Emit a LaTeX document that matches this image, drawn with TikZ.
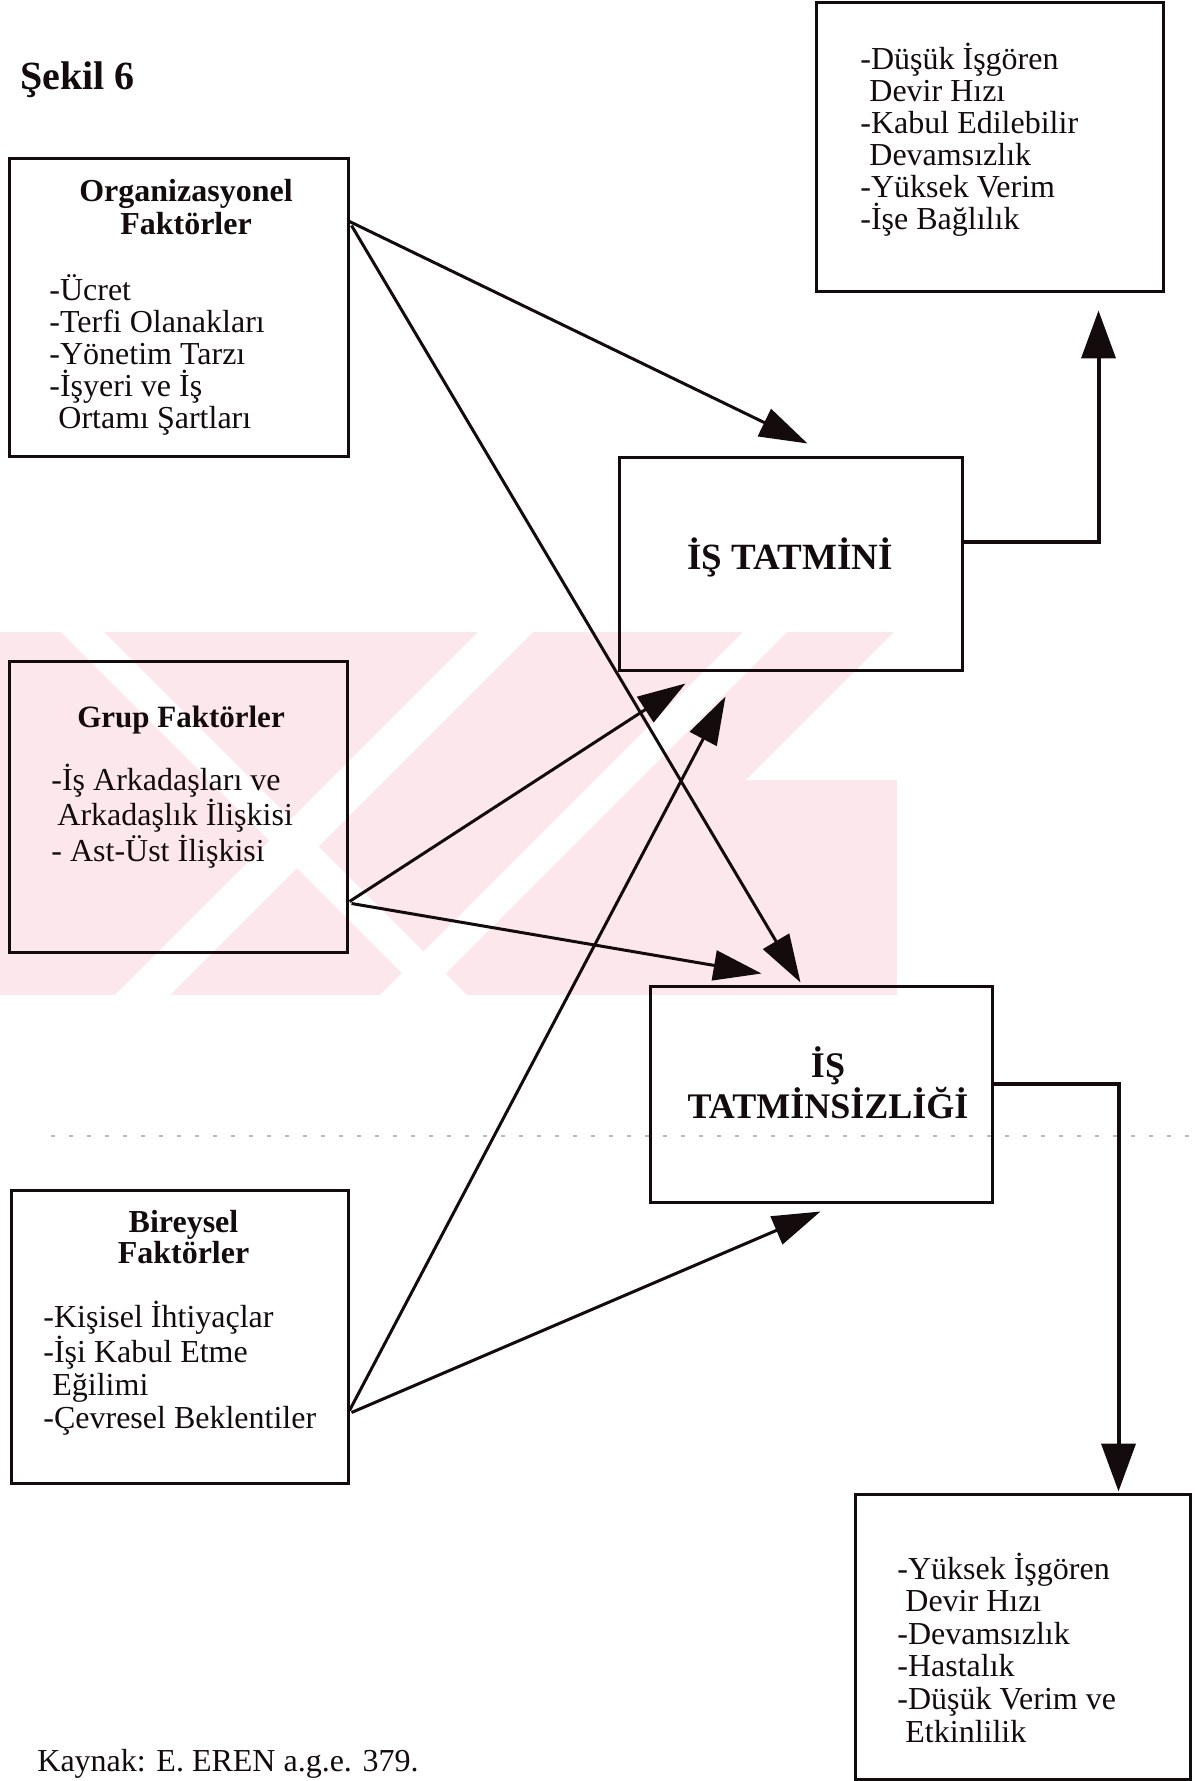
\documentclass[tikz,border=0pt]{standalone}
\usepackage{fontspec}
\setmainfont{Liberation Serif}
\usetikzlibrary{arrows.meta,calc}

\definecolor{wmpink}{RGB}{252,232,236}
\definecolor{ink}{RGB}{20,12,12}

\tikzset{
  box/.style={draw=ink, line width=1.5pt, inner sep=0pt},
  lst/.style={anchor=west, align=left, inner sep=0pt, text=ink},
  head/.style={anchor=center, align=center, inner sep=0pt, text=ink},
  link/.style={draw=ink, line width=1.5pt, -{Triangle[length=24pt,width=15pt]}},
  uplink/.style={draw=ink, line width=2pt, -{Triangle[length=24pt,width=17pt]}},
}

\begin{document}
\begin{tikzpicture}[x=0.5pt,y=-0.5pt]
\useasboundingbox (0,0) rectangle (1194,1781);
\fill[white] (0,0) rectangle (1194,1781);

% faint pink band behind the middle row, broken by diagonal white bands
\begin{scope}
  \clip (0,632) rectangle (897,995);
  \fill[wmpink] (0,632) rectangle (897,995);
  % white diagonals (x-y or x+y constant)
  \fill[white] (61,632) -- (104,632) -- (467,995) -- (424,995) -- cycle;
  \fill[white] (478,632) -- (533,632) -- (170,995) -- (115,995) -- cycle;
  \fill[white] (743,632) -- (787,632) -- (424,995) -- (380,995) -- cycle;
  \fill[white] (897,629) -- (897,780) -- (746,780) -- cycle;
\end{scope}

% thin dotted rule across the lower half
\draw[gray!55, line width=0.6pt, dash pattern=on 2pt off 7pt] (51,1136) -- (1194,1136);

% title
\node[anchor=west, inner sep=0pt, text=ink, font=\fontsize{20}{20}\selectfont\bfseries] (title) at (20,80) {Şekil 6};

% boxes
\node[box, minimum width=169.5pt, minimum height=148.5pt] (org)  at (178.5,307.5) {};
\node[box, minimum width=173.5pt, minimum height=144.5pt] (out1) at (989.5,147.5) {};
\node[box, minimum width=171.5pt, minimum height=106.5pt] (tat)  at (790.5,563.5) {};
\node[box, minimum width=169pt,   minimum height=145.5pt] (grup) at (178,806.5) {};
\node[box, minimum width=171pt,   minimum height=108pt]   (tsz)  at (821,1094) {};
\node[box, minimum width=168.5pt, minimum height=146.5pt] (bir)  at (179.5,1336.5) {};
\node[box, minimum width=167.5pt, minimum height=142.5pt] (out2) at (1022.5,1636.5) {};

% box texts
\node[head, font=\fontsize{16}{16.5}\selectfont\bfseries] (orgh) at (186,207.5) {Organizasyonel\\Faktörler};
\node[lst, font=\fontsize{16}{16}\selectfont] (orgl) at (49,355)
  {-Ücret\\-Terfi Olanakları\\-Yönetim Tarzı\\-İşyeri ve İş\\\hspace*{4.5pt}Ortamı Şartları};

\node[lst, font=\fontsize{16}{16}\selectfont] (out1l) at (860,139.5)
  {-Düşük İşgören\\\hspace*{4.5pt}Devir Hızı\\-Kabul Edilebilir\\\hspace*{4.5pt}Devamsızlık\\-Yüksek Verim\\-İşe Bağlılık};

\node[head, font=\fontsize{18.5}{19}\selectfont\bfseries] (tatt) at (790,557) {İŞ TATMİNİ};

\node[head, font=\fontsize{15.5}{16}\selectfont\bfseries] (gruph) at (181,720) {Grup Faktörler};
\node[lst, font=\fontsize{16}{15.75}\selectfont] (grupl) at (51,816)
  {-İş Arkadaşları ve\\\hspace*{3pt}Arkadaşlık İlişkisi\\- Ast-Üst İlişkisi};

\node[head, font=\fontsize{18}{19}\selectfont\bfseries] (tszt) at (828,1083) {İŞ\\TATMİNSİZLİĞİ};

\node[head, font=\fontsize{16}{15.5}\selectfont\bfseries] (birh) at (183.5,1237.5) {Bireysel\\Faktörler};
\node[lst, font=\fontsize{16}{16.5}\selectfont] (birl) at (43,1368)
  {-Kişisel İhtiyaçlar\\-İşi Kabul Etme\\\hspace*{4.5pt}Eğilimi\\-Çevresel Beklentiler};

\node[lst, font=\fontsize{16}{16.3}\selectfont] (out2l) at (897,1647.5)
  {-Yüksek İşgören\\\hspace*{4pt}Devir Hızı\\-Devamsızlık\\-Hastalık\\-Düşük Verim ve\\\hspace*{4pt}Etkinlilik};

\node[anchor=base west, inner sep=0pt, text=ink, font=\fontsize{16}{16}\selectfont] (src) at (37,1771) {Kaynak: E. EREN a.g.e. 379.};

% connectors
\draw[link] ($(org.north east)+(0,64)$)  -- ($(tat.north west)+(190,-12)$);
\draw[link] ($(org.north east)+(2,68)$)  -- ($(tsz.north west)+(152,-2)$);
\draw[link] ($(grup.north east)+(1,242)$) -- ($(tat.south west)+(68,12)$);
\draw[link] ($(grup.north east)+(3,244)$) -- ($(tsz.north west)+(113,-11)$);
\draw[link] ($(bir.north east)+(0,222)$) -- ($(tat.south west)+(108,25)$);
\draw[link] ($(bir.north east)+(2,224)$) -- ($(tsz.south west)+(172,8)$);

\coordinate (upTip) at ($(out1.south east)+(-66,17)$);
\coordinate (downTip) at ($(out2.north west)+(265,-1)$);
\draw[uplink] ($(tat.north east)+(0,86)$) -| (upTip);
\draw[uplink] ($(tsz.north east)+(0,99)$) -| (downTip);
\end{tikzpicture}
\end{document}
